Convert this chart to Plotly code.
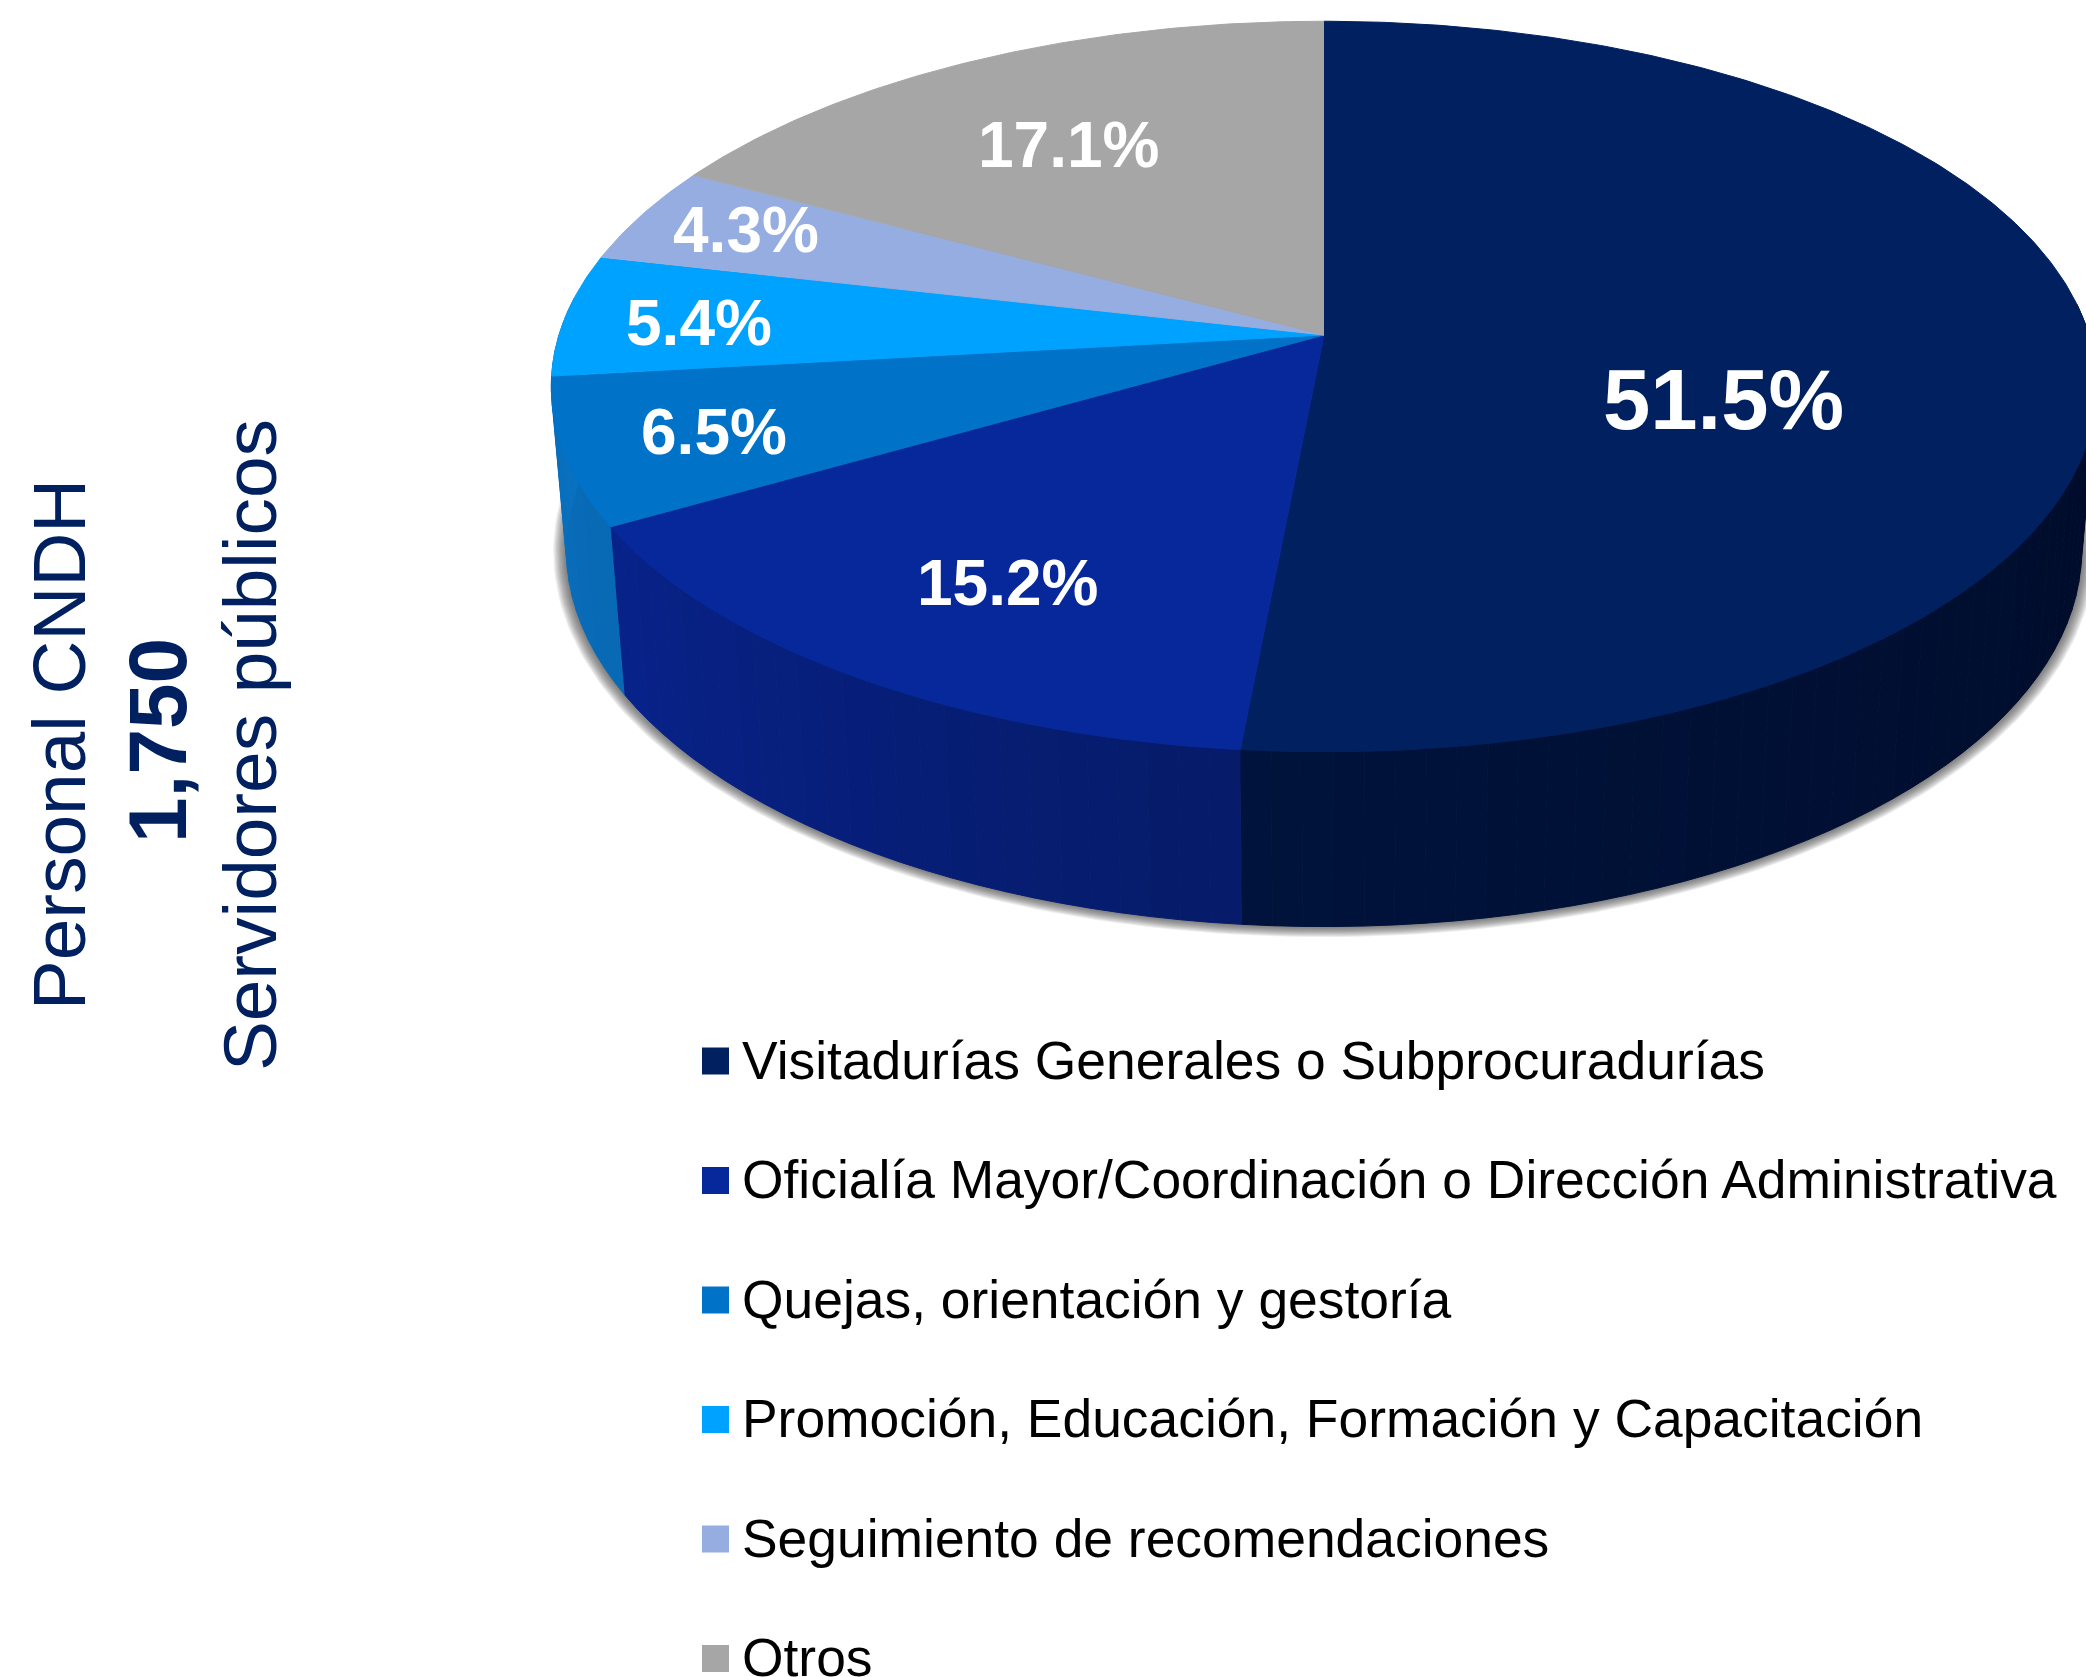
import numpy as np
import plotly.graph_objects as go

# ---- data ----
categories = [
    "Visitadurías Generales o Subprocuradurías",
    "Oficialía Mayor/Coordinación o Dirección Administrativa",
    "Quejas, orientación y gestoría",
    "Promoción, Educación, Formación y Capacitación",
    "Seguimiento de recomendaciones",
    "Otros",
]
shares = [51.5, 15.2, 6.5, 5.4, 4.3, 17.1]
share_labels = ["51.5%", "15.2%", "6.5%", "5.4%", "4.3%", "17.1%"]
side_title = ["Personal CNDH", "1,750", "Servidores públicos"]

# ---- styles ----
colors = ["#002060", "#06289A", "#0072C8", "#00A2FF", "#95ADE0", "#A6A6A6"]
side_from = ["#000A26", "#061B68", "#0869B4", None, None, None]   # clockwise start of slice
side_to = ["#00133C", "#07228A", "#0A72C2", None, None, None]     # clockwise end of slice
label_xy = [(1723, 399), (1007, 583), (714, 432), (699, 323), (746, 230), (1068, 145)]
label_size = [85, 64, 64, 64, 64, 64]
W, H = 2086, 1677
FONT = "Liberation Sans"
NAVY = "#002060"


def project(theta, cx=1324.0, cy=335.0, rx=765.0, ry=358.0, k=0.141):
    """Perspective view of a disc; theta runs clockwise from 12 o'clock."""
    u, v = np.sin(theta), np.cos(theta)
    w = 1 + k * v
    return cx + rx * u / w, cy - ry * v / w


def lower(theta, grow_x=0.0, grow_y=0.0):
    return project(theta, cy=497.0, rx=750.0 + grow_x, ry=369.0 + grow_y)


def hex_rgb(h):
    return np.array([int(h[i:i + 2], 16) for i in (1, 3, 5)], float)


def mix(a, b, t):
    c = hex_rgb(a) * (1 - t) + hex_rgb(b) * t
    return "rgb(%d,%d,%d)" % tuple(np.round(c))


def poly(xs, ys, color, line=True):
    return go.Scatter(
        x=list(xs), y=list(ys), mode="lines", fill="toself", fillcolor=color,
        line=dict(color=color, width=1 if line else 0), hoverinfo="skip",
        showlegend=False,
    )


fig = go.Figure()

edges = np.cumsum([0] + shares) / sum(shares) * 2 * np.pi

# soft shadow under the pie
all_t = np.linspace(0, 2 * np.pi, 361)
for i in range(10, 0, -1):
    sx, sy = lower(all_t, grow_x=i * 1.3, grow_y=i * 0.9)
    fig.add_trace(poly(sx, sy, "rgba(70,70,70,0.10)", line=False))

# side walls, drawn as thin strips so that the shading runs along the rim
vis_lo, vis_hi = np.radians(85), np.radians(276)
for s in range(3):
    a, b = max(edges[s], vis_lo), min(edges[s + 1], vis_hi)
    if s == 2:
        b = vis_hi
    n = max(6, int((b - a) / np.radians(2.0)))
    ts = np.linspace(a, b, n + 1)
    for j in range(n):
        t = np.linspace(ts[j], ts[j + 1], 5)
        x1, y1 = project(t)
        x2, y2 = lower(t)
        col = mix(side_from[s], side_to[s], (j + 0.5) / n)
        fig.add_trace(poly(np.r_[x1, x2[::-1]], np.r_[y1, y2[::-1]], col))

# top face slices
ax, ay = project(np.array([0.0]), k=0.0, ry=0.0)
for s, c in enumerate(colors):
    t = np.linspace(edges[s], edges[s + 1], max(8, int(shares[s] * 6)))
    x, y = project(t)
    fig.add_trace(poly(np.r_[ax, x], np.r_[ay, y], c))

# legend: square keys and their labels
legend_y = 1061 + 119.5 * np.arange(len(categories))
fig.add_trace(go.Scatter(
    x=[715.5] * len(categories), y=legend_y, mode="markers",
    marker=dict(symbol="square", size=27, color=colors, line=dict(width=0)),
    hoverinfo="skip", showlegend=False,
))
for name, yy in zip(categories, legend_y):
    fig.add_annotation(x=739.5, y=yy - 1, text=name, showarrow=False, xanchor="left",
                       yanchor="middle", font=dict(family=FONT, size=53.4, color="#000000"))

# slice values
for lab, (lx, ly), sz in zip(share_labels, label_xy, label_size):
    fig.add_annotation(x=lx, y=ly, text="<b>%s</b>" % lab, showarrow=False,
                       font=dict(family=FONT, size=sz, color="#FFFFFF"))

# rotated side title
for txt, xx, yy, sz, bold in zip(side_title, [59, 157, 250], [745, 741, 745], [74.7, 82, 74.7], [0, 1, 0]):
    fig.add_annotation(x=xx, y=yy, text=("<b>%s</b>" % txt) if bold else txt, textangle=-90,
                       showarrow=False, font=dict(family=FONT, size=sz, color=NAVY))

fig.update_layout(
    width=W, height=H, margin=dict(l=0, r=0, t=0, b=0),
    paper_bgcolor="#FFFFFF", plot_bgcolor="#FFFFFF", showlegend=False,
    xaxis=dict(range=[0, W], visible=False, fixedrange=True),
    yaxis=dict(range=[H, 0], visible=False, fixedrange=True),
)
fig.write_html("out.html", config=dict(displayModeBar=False),
               post_script="document.body.style.margin='0';document.body.style.overflow='hidden';")
